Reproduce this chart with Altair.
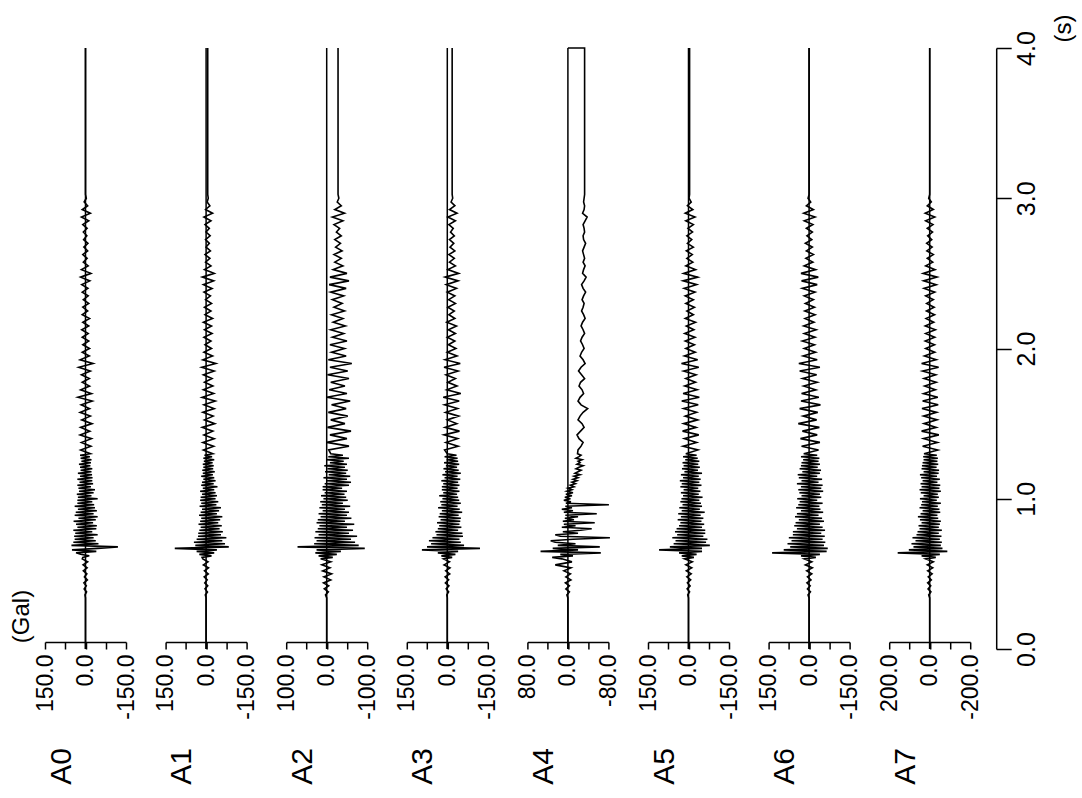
import altair as alt
import pandas as pd

# ---- channel names and amplitude ranges (Gal) ----
NAMES = ["A0", "A1", "A2", "A3", "A4", "A5", "A6", "A7"]
LIMITS = [150, 150, 100, 150, 80, 150, 150, 200]

# ---- sample times (s) ----
T_START = [0.0, 0.34]
T_PRE = [round(0.36 + 0.02 * k, 3) for k in range(13)]
T_MAIN = [round(0.61 + 0.01 * k, 3) for k in range(70)]
T_CODA = [round(1.325 + 0.025 * k, 3) for k in range(68)]
T_TAIL = [3.025, 4.0]

# ---- amplitudes read from the record (Gal) ----
A0_PRE = [2, -4, 5, -3, 6, -7, 4, -5, 8, -6, 9, -8, 12]
A0_MAIN = [10, -14, 18, 35, -40, 50, -45, -120, 52, -48, 45, -38, 40,
           -30, 42, -45, 38, -25, 45, -40, 30, -42, 35, -28, 44, -38, 26, -45, 40, -30, 36, -42, 28, -35, 40, -32, 30,
           -25, 30, -45, 28, -22, 32, -30, 24, -35, 26, -20, 30, -28, 22, -25, 30, -26, 20, -24, 28,
           -22, 18, -25, 20, -18, 24, -20, 15, -22, 18, -16, 20, -18]
A0_CODA = [18, -20, 15, -22, 20, -16, 18, -24, 14, -18,
           20, -15, 16, -25, 28, -22, 18, -15, 12, -14,
           15, -18, 25, -28, 20, -14, 12, -15, 10, -12,
           12, -10, 14, -12, 10, -15, 12, -8, 10, -12,
           8, -10, 12, -9, 14, -16, 18, -20, 15, -10,
           8, -6, 10, -8, 6, -9, 7, -5, 8, -6,
           10, -12, 15, -18, 12, -8, 5, -3]
A0_END = 0

A1_PRE = [3, -5, 4, -6, 5, -4, 7, -8, 6, -9, 10, -7, 12]
A1_MAIN = [15, -20, 25, -30, 35, -40, 116,
           -84, 40, -70, 45, -60, 35, -75, 30, -55,
           29, -62, 25, -50, 20, -58, 28, -45, 22, -52, 18, -60, 26, -40, 20, -48, 15, -55, 24, -38, 18, -45, 22, -35,
           20, -40, 15, -35, 22, -30, 12, -42, 18, -28, 15, -35, 10, -30, 18, -25, 12, -32, 14, -26,
           10, -28, 12, -24, 8, -30, 10, -22, 6, -25]
A1_CODA = [10, -28, 12, -30, 8, -25, 14, -32, 6, -26,
           12, -30, 8, -34, 15, -28, 10, -25, 6, -22,
           10, -30, 16, -36, 12, -24, 8, -20, 4, -18,
           8, -22, 6, -20, 10, -24, 4, -18, 6, -20,
           2, -16, 8, -22, 10, -28, 14, -30, 6, -18,
           2, -14, 4, -16, 0, -12, 2, -15, 0, -12,
           4, -18, 8, -24, 2, -14, -4, -8]
A1_END = -6

A2_PRE = [3, -4, 6, -5, 8, -10, 7, -12, 10, -8, 12, -10, 15]
A2_MAIN = [-15, 20, -25, 28, -35, 25, -94, 72,
           -79, 31, -70, 25, -60, 30, -75, 20, -55, 28, -65, 22, -50, 18, -68, 25, -45,
           22, -61, 15, -50, 20, -55, 10, -45, 18, -58, 12, -40, 16, -52, 8, -48, 14, -44, 5, -50, 10, -38,
           10, -55, 5, -60, 0, -50, 8, -58, -5, -48, 4, -52, -2, -45, 6, -50, -8, -42, 0, -55, -4, -40, -10]
A2_CODA = [-5, -55, 0, -50, -8, -60, -2, -45, -10, -52,
           -4, -48, -12, -58, 0, -50, -6, -45, -10, -55,
           -2, -52, -8, -62, -4, -48, -12, -44, -8, -50,
           -14, -42, -10, -46, -16, -40, -12, -44, -18, -38,
           -14, -42, -10, -48, -6, -55, -8, -50, -16, -40,
           -20, -36, -18, -38, -22, -34, -20, -36, -24, -32,
           -18, -40, -14, -44, -20, -36, -26, -30]
A2_END = -28

A3_PRE = [2, -5, 4, -6, 7, -5, 8, -9, 6, -10, 12, -8, 14]
A3_MAIN = [-18, 22, -30, 35, -40, 94, -121,
           75, -62, 60, -50, 68, -45, 55, -58, 40,
           -56, 44, -40, 35, -52, 30, -45, 38, -48, 25, -50, 32, -42, 28, -55, 20, -46, 34, -38, 22,
           -50, 26, -44, 18, -40, 30, -36, 15, -45, 20, -38,
           20, -45, 15, -40, 22, -48, 10, -38, 18, -50, 8, -42, 14, -36, 5, -44, 12, -40, 2, -38, 10, -34, 0]
A3_CODA = [10, -40, 5, -38, 12, -45, 8, -35, 0, -42,
           6, -38, 10, -44, 15, -50, 2, -36, -2, -30,
           5, -40, 12, -48, 8, -36, 0, -32, -4, -28,
           0, -30, -4, -34, 2, -28, -6, -26, -2, -30,
           -5, -28, 0, -34, 4, -40, 8, -42, -2, -30,
           -8, -26, -6, -28, -10, -24, -8, -26, -12, -22,
           -6, -30, -2, -36, -8, -28, -14, -20]
A3_END = -18

A4_PRE = [2, -3, 4, -3, 5, -6, 4, -5, 8, -6, 25, -8, 12]
A4_MAIN = [31, -10, 15, -65, 54, -20, 30, -63, 20, -15,
           25, 34, -10, -83, 15, 25, -20, 10, -25, -47,
           12, -15, 8, -53, 10, -12, 6, -20, 5, -57,
           8, -10, 12, -8, 5, -81, 4, -6, 8, -5,
           6, -8, 4, -10, 2, -8, 0, -12, -5, -15,
           -8, -18, -10, -20, -12, -24, -14, -20, -26, -16,
           -22, -30, -18, -24, -20, -28, -16, -22, -26, -19]
A4_CODA = [-20, -26, -30, -22, -18, -25, -32, -28, -20, -24,
           -30, -39, -26, -20, -24, -31, -28, -22, -25, -33,
           -27, -21, -26, -34, -30, -24, -27, -32, -29, -25,
           -28, -33, -30, -26, -29, -34, -31, -27, -30, -32,
           -28, -31, -35, -30, -27, -32, -36, -29, -31, -34,
           -30, -33, -31, -29, -32, -35, -31, -30, -33, -32,
           -30, -34, -38, -29, -32, -33, -31, -32]
A4_END = -33

A5_PRE = [3, -4, 5, -6, 4, -8, 6, -10, 8, -12, 10, -14, 15]
A5_MAIN = [-20, 25, -30, 35, -50, 109,
           -50, 69, -79, 55, -65, 48, -70, 60, -55, 42, -62, 50,
           -62, 44, -50, 35, -58, 30, -48, 40, -55, 28, -45, 38, -60, 25, -42, 34, -50, 22, -46, 30,
           -40, 26, -52, 20, -38, 28, -44, 18, -36,
           30, -48, 25, -40, 32, -45, 20, -38, 28, -50, 15, -35, 24, -42, 18, -36, 22, -40, 12, -34, 20, -30, 10]
A5_CODA = [-35, 20, -30, 15, -38, 22, -28, 18, -34, 12,
           -30, 18, -36, 25, -40, 20, -32, 14, -26, 10,
           -28, 18, -38, 26, -34, 15, -25, 10, -22, 12,
           -24, 14, -20, 8, -26, 12, -18, 6, -22, 10,
           -18, 12, -24, 16, -30, 20, -34, 18, -26, 10,
           -16, 6, -14, 8, -18, 4, -12, 6, -15, 2,
           -18, 10, -24, 12, -16, 4, -10, -2]
A5_END = -4

A6_PRE = [4, -5, 6, -4, 8, -7, 6, -10, 9, -12, 14, -10, 18]
A6_MAIN = [-25, 30, -40, 137, -65,
           94, -69, 70, -55, 80, -60, 65, -50, 75, -58, 60, -45,
           60, -59, 45, -50, 55, -40, 50, -55, 38, -48, 52, -35, 45, -52, 30, -42, 48, -38, 40, -50,
           35, -30, 44, -45, 28, -40, 36,
           -52, 40, -45, 30, -50, 45, -35, 28, -48, 38, -30, 42, -40, 25, -44, 35, -32, 30,
           -40, 28, -35, 22, -38, 30, -30, 20]
A6_CODA = [-35, 28, -40, 32, -30, 25, -38, 40, -28, 22,
           -32, 35, -42, 30, -36, 28, -25, 20, -30, 24,
           -28, 35, -40, 38, -30, 22, -24, 18, -20, 25,
           -22, 18, -26, 20, -18, 15, -22, 16, -20, 14,
           -16, 18, -22, 25, -30, 28, -34, 30, -24, 18,
           -14, 12, -16, 10, -12, 14, -10, 8, -12, 10,
           -14, 18, -22, 20, -16, 10, -6, 4]
A6_END = 0

A7_PRE = [5, -6, 8, -5, 10, -8, 7, -12, 10, -15, 12, -18, 20]
A7_MAIN = [-30, 40, -50, 158, -87,
           103, -63, 80, -55, 90, -60, 70, -50, 85, -58, 65, -45,
           60, -60, 50, -45, 55, -50, 40, -55, 48, -42, 58, -38, 45, -52, 35, -48, 50, -40, 42, -55,
           38, -35, 48, -45, 30, -40, 44,
           -55, 50, -48, 40, -52, 45, -38, 35, -50, 42, -36, 48, -44, 30, -46, 40, -34, 38,
           -42, 35, -38, 30, -40, 32, -35, 28]
A7_CODA = [-40, 35, -38, 30, -45, 40, -32, 28, -36, 30,
           -34, 38, -42, 35, -40, 30, -28, 25, -32, 28,
           -30, 35, -44, 40, -32, 26, -25, 20, -24, 22,
           -25, 20, -28, 22, -20, 18, -24, 16, -22, 15,
           -18, 20, -25, 28, -32, 30, -36, 32, -26, 20,
           -15, 12, -18, 14, -12, 15, -10, 10, -14, 12,
           -16, 20, -25, 22, -18, 12, -8, 5]
A7_END = 0

PARTS = {
    "A0": (A0_PRE, A0_MAIN, A0_CODA, A0_END),
    "A1": (A1_PRE, A1_MAIN, A1_CODA, A1_END),
    "A2": (A2_PRE, A2_MAIN, A2_CODA, A2_END),
    "A3": (A3_PRE, A3_MAIN, A3_CODA, A3_END),
    "A4": (A4_PRE, A4_MAIN, A4_CODA, A4_END),
    "A5": (A5_PRE, A5_MAIN, A5_CODA, A5_END),
    "A6": (A6_PRE, A6_MAIN, A6_CODA, A6_END),
    "A7": (A7_PRE, A7_MAIN, A7_CODA, A7_END),
}
CLOSE_AT_END = {"A4"}

FONT = "Liberation Sans"
TIMES = T_START + T_PRE + T_MAIN + T_CODA + T_TAIL


def trace_frame(name):
    pre, main, coda, end = PARTS[name]
    vals = [0, 0] + pre + main + coda + [end, end]
    rows = [{"t": t, "a": a} for t, a in zip(TIMES, vals)]
    if name in CLOSE_AT_END:
        rows.append({"t": 4.0, "a": 0})
    df = pd.DataFrame(rows)
    df["i"] = range(len(df))
    return df


def panel(idx, name, lim):
    xscale = alt.Scale(domain=[-lim, lim], reverse=True, nice=False, zero=False)
    yscale = alt.Scale(domain=[0, 4], nice=False, zero=False)
    lab = ("datum.value == 0 ? '0.0' : (abs(datum.value) == %d ? "
           "((datum.value < 0 ? '-' : '') + format(abs(datum.value), '.1f')) : '')" % lim)
    xaxis = alt.Axis(values=[-lim, -lim / 2, 0, lim / 2, lim], labelExpr=lab,
                     labelAngle=270, labelFontSize=23, labelFont=FONT, labelColor="black",
                     labelPadding=5, labelFlush=False, labelOverlap=False, labelBound=False,
                     tickSize=7, tickWidth=1.5, tickColor="black",
                     domainColor="black", domainWidth=1.5, offset=-7, grid=False,
                     title=name, titleAngle=270, titleFontSize=30, titleFontWeight="normal",
                     titleFont=FONT, titleColor="black", titleX=16, titleY=124,
                     titleAlign="center", titleBaseline="middle")
    if idx == 0:
        yaxis = alt.Axis(title="(Gal)", domain=False, ticks=False, labels=False, grid=False,
                         titleAngle=270, titleX=-24, titleY=568, titleAlign="center",
                         titleBaseline="middle", titleFontSize=24, titleFontWeight="normal",
                         titleFont=FONT, titleColor="black")
    elif idx == len(NAMES) - 1:
        yaxis = alt.Axis(orient="right", offset=26, values=[0, 1, 2, 3, 4], format=".1f",
                         labelAngle=270, labelFontSize=25, labelFont=FONT, labelColor="black",
                         labelPadding=3, labelFlush=False, labelOverlap=False,
                         tickSize=15, tickWidth=1.5, tickColor="black",
                         domainColor="black", domainWidth=1.5, grid=False,
                         title="(s)", titleAngle=270, titleX=67, titleY=-20,
                         titleAlign="center", titleBaseline="middle", titleFontSize=24,
                         titleFontWeight="normal", titleFont=FONT, titleColor="black")
    else:
        yaxis = None

    X = alt.X("a:Q", scale=xscale, axis=xaxis)
    Y = alt.Y("t:Q", scale=yscale, axis=yaxis) if yaxis is not None else alt.Y("t:Q", scale=yscale, axis=None)

    zero_df = pd.DataFrame({"a": [0], "t": [0.0], "t2": [4.0]})
    zero = alt.Chart(zero_df).mark_rule(color="black", strokeWidth=1.5).encode(x=X, y=Y, y2="t2:Q")
    line = alt.Chart(trace_frame(name)).mark_line(color="black", strokeWidth=1.6).encode(
        x=X, y=Y, order="i:Q")
    return alt.layer(zero, line).properties(width=81, height=601)


panels = [panel(k, n, l) for k, (n, l) in enumerate(zip(NAMES, LIMITS))]
chart = (
    alt.hconcat(*panels, spacing=39.6, bounds="flush")
    .properties(padding={"left": 9, "top": 14, "right": 2, "bottom": 2})
    .configure(background="white", font=FONT)
    .configure_view(strokeWidth=0, strokeOpacity=0)
    .configure_axis(grid=False)
)

chart.save("out.html", embed_options={"renderer": "svg", "actions": False})
